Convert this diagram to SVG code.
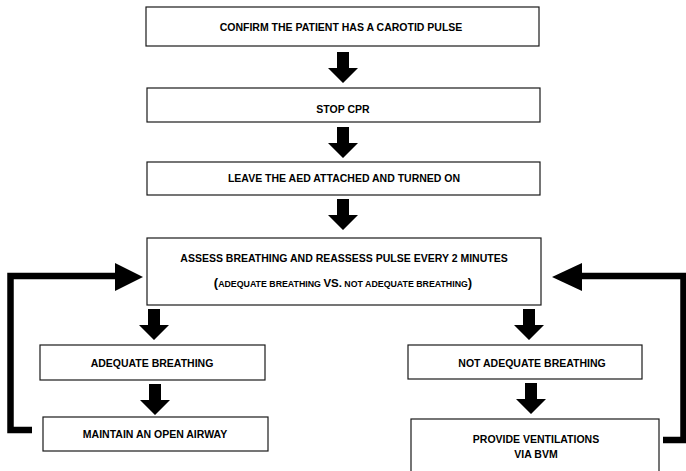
<svg xmlns="http://www.w3.org/2000/svg" width="686" height="471" viewBox="0 0 686 471">
  <defs>
    <style>
      .box { fill: #ffffff; stroke: #1a1a1a; stroke-width: 1.2; }
      .lbl { font-family: "Liberation Sans", Arial, sans-serif; font-weight: bold; font-size: 10.5px; fill: #000; text-anchor: middle; }
      .sc { font-size: 8.8px; }
      .big { font-size: 11.5px; }
      .par { font-size: 13px; }
      .down { fill: #000; }
      .loop { fill: none; stroke: #000; stroke-width: 6.5; stroke-linejoin: miter; }
    </style>
    <!-- Block arrow pointing down, origin at tip centre -->
    <path id="blockDown" d="M-6,-31 H6 V-15 H15 L0,0 L-15,-15 H-6 Z"/>
  </defs>

  <rect width="686" height="471" fill="#ffffff"/>

  <!-- connectors -->
  <g id="connectors">
    <use href="#blockDown" class="down" x="343" y="83"/>
    <use href="#blockDown" class="down" x="343" y="158"/>
    <use href="#blockDown" class="down" x="343" y="230"/>
    <use href="#blockDown" class="down" x="154" y="340"/>
    <use href="#blockDown" class="down" x="155" y="415"/>
    <use href="#blockDown" class="down" x="529" y="340"/>
    <use href="#blockDown" class="down" x="531" y="414"/>
    <!-- loop back from "maintain an open airway" -->
    <polyline class="loop" points="32,430 10.5,430 10.5,276 116,276"/>
    <polygon class="down" points="115,263 143,277 115,291"/>
    <!-- loop back from "provide ventilations" -->
    <polyline class="loop" points="663,440 683.5,440 683.5,276 581,276"/>
    <polygon class="down" points="582,263 552,277 582,291"/>
  </g>

  <g id="confirm-pulse">
    <rect class="box" x="146" y="7" width="393" height="39"/>
    <text class="lbl" x="341" y="31">CONFIRM THE PATIENT HAS A CAROTID PULSE</text>
  </g>

  <g id="stop-cpr">
    <rect class="box" x="147" y="88" width="393" height="34"/>
    <text class="lbl" x="343" y="113">STOP CPR</text>
  </g>

  <g id="leave-aed">
    <rect class="box" x="147" y="162" width="393" height="33"/>
    <text class="lbl" x="344" y="182">LEAVE THE AED ATTACHED AND TURNED ON</text>
  </g>

  <g id="assess-breathing">
    <rect class="box" x="147" y="238" width="394" height="67"/>
    <text class="lbl" x="344" y="262">ASSESS BREATHING AND REASSESS PULSE EVERY 2 MINUTES</text>
    <text class="lbl" x="343" y="287"><tspan class="par">(</tspan><tspan class="sc">ADEQUATE BREATHING </tspan><tspan class="big">VS.</tspan><tspan class="sc"> NOT ADEQUATE BREATHING</tspan><tspan class="par">)</tspan></text>
  </g>

  <g id="adequate">
    <rect class="box" x="40" y="345" width="225" height="35"/>
    <text class="lbl" x="152" y="367">ADEQUATE BREATHING</text>
  </g>

  <g id="open-airway">
    <rect class="box" x="43" y="417" width="225" height="34"/>
    <text class="lbl" x="155" y="438">MAINTAIN AN OPEN AIRWAY</text>
  </g>

  <g id="not-adequate">
    <rect class="box" x="408" y="345" width="234" height="34"/>
    <text class="lbl" x="532" y="367">NOT ADEQUATE BREATHING</text>
  </g>

  <g id="ventilations">
    <rect class="box" x="411" y="419" width="248" height="60"/>
    <text class="lbl" x="536" y="443">PROVIDE VENTILATIONS</text>
    <text class="lbl" x="536" y="458">VIA BVM</text>
  </g>
</svg>
